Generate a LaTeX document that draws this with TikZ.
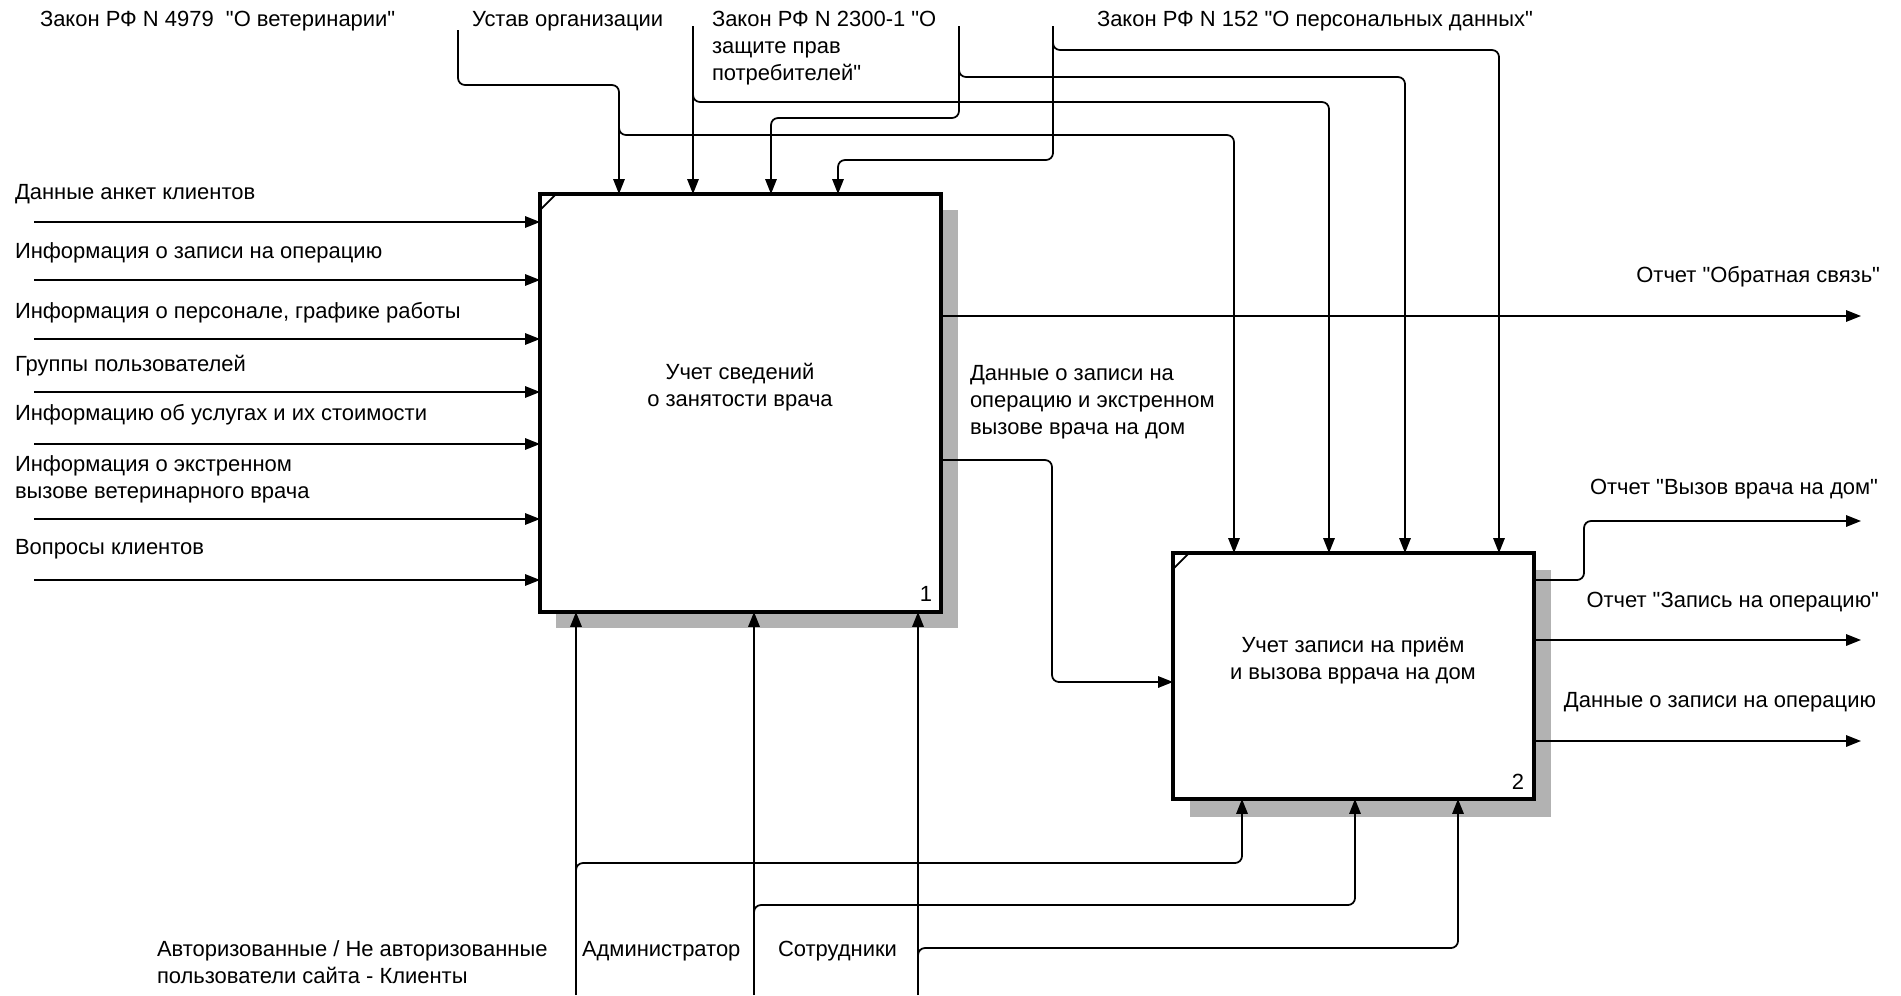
\documentclass[tikz,border=0pt]{standalone}
\usepackage{fontspec}
\setmainfont{Liberation Sans}[Ligatures=TeXOff]
\usetikzlibrary{arrows.meta,calc}
\begin{document}
\begin{tikzpicture}[x=0.02cm,y=-0.02cm,
  every node/.style={font=\fontsize{12.5}{15.3}\selectfont, inner sep=0pt, outer sep=0pt},
  conn/.style={line width=1pt, rounded corners=4pt},
  arr/.style={conn, -{Triangle[length=8.5pt,width=6.5pt]}},
  proc/.style={draw, line width=1.8pt, fill=white, inner sep=0pt, outer sep=0pt, anchor=north west},
  lbl/.style={anchor=west, align=left},
  rlbl/.style={anchor=east, align=right},
  shadowbox/.style={fill=black!30}
]
\useasboundingbox (0,0) rectangle (1901,995);

% shadows
\fill[shadowbox] (556,210) rectangle (958,628);
\fill[shadowbox] (1190,570) rectangle (1551,817);

% boxes
\node[proc, minimum width=8.02cm, minimum height=8.36cm] (b1) at (540,194) {};
\node[proc, minimum width=7.22cm, minimum height=4.92cm] (b2) at (1173,553) {};
\draw[line width=1pt] ($(b1.north west)+(0,16)$) -- ($(b1.north west)+(16,0)$);
\draw[line width=1pt] ($(b2.north west)+(0,16)$) -- ($(b2.north west)+(16,0)$);
\node[align=center] (b1t) at (740,387) {Учет сведений\\о занятости врача};
\node[align=center] (b2t) at (1353,661) {Учет записи на приём\\и вызова вррача на дом};
\node (n1) at (926,594) {1};
\node (n2) at (1518,782) {2};

% inputs
\foreach \i/\y in {1/222,2/280,3/339,4/392,5/444,6/519,7/580}{
  \coordinate (s\i) at (34,\y);
  \draw[arr] (s\i) -- (b1.west |- s\i);
}
\node[lbl] (l1) at (15,194) {Данные анкет клиентов};
\node[lbl] (l2) at (15,253) {Информация о записи на операцию};
\node[lbl] (l3) at (15,313) {Информация о персонале, графике работы};
\node[lbl] (l4) at (15,366) {Группы пользователей};
\node[lbl] (l5) at (15,415) {Информацию об услугах и их стоимости};
\node[lbl] (l6) at (15,479) {Информация о экстренном\\вызове ветеринарного врача};
\node[lbl] (l7) at (15,549) {Вопросы клиентов};

% top labels
\node[lbl] (t1) at (40,21) {Закон РФ N 4979 \ "О ветеринарии"};
\node[lbl] (t2) at (472,21) {Устав организации};
\node[lbl] (t3) at (712,48) {Закон РФ N 2300-1 "О\\защите прав\\потребителей"};
\node[lbl] (t4) at (1097,21) {Закон РФ N 152 "О персональных данных"};

% controls
\coordinate (u1) at (458,30);
\draw[arr] (u1) -- (458,85) -- (619,85) -- (619,0 |- b1.north);
\draw[arr] (619,120) -- (619,135) -- (1234,135) -- (1234,0 |- b2.north);
\coordinate (v1) at (693,26);
\draw[arr] (v1) -- (693,0 |- b1.north);
\draw[arr] (693,88) -- (693,102) -- (1329,102) -- (1329,0 |- b2.north);
\coordinate (w1) at (959,26);
\draw[arr] (w1) -- (959,118) -- (771,118) -- (771,0 |- b1.north);
\draw[arr] (959,63) -- (959,77) -- (1405,77) -- (1405,0 |- b2.north);
\coordinate (z1) at (1053,26);
\draw[arr] (z1) -- (1053,160) -- (838,160) -- (838,0 |- b1.north);
\draw[arr] (1053,36) -- (1053,50) -- (1499,50) -- (1499,0 |- b2.north);

% outputs of box 1
\coordinate (e1) at (1861,316);
\draw[arr] (b1.east |- e1) -- (e1);
\node[rlbl] (o1) at (1880,277) {Отчет "Обратная связь"};
\draw[arr] (b1.east |- 0,460) -- (1052,460) -- (1052,682) -- (b2.west |- 0,682);
\node[lbl] (o2) at (970,402) {Данные о записи на\\операцию и экстренном\\вызове врача на дом};

% outputs of box 2
\coordinate (e2) at (1861,521);
\draw[arr] (b2.east |- 0,580) -- (1584,580) -- (1584,521) -- (e2);
\node[rlbl] (o3) at (1878,489) {Отчет "Вызов врача на дом"};
\coordinate (e3) at (1861,640);
\draw[arr] (b2.east |- e3) -- (e3);
\node[rlbl] (o4) at (1879,602) {Отчет "Запись на операцию"};
\coordinate (e4) at (1861,741);
\draw[arr] (b2.east |- e4) -- (e4);
\node[rlbl] (o5) at (1876,702) {Данные о записи на операцию};

% mechanisms
\coordinate (m1) at (576,995);
\draw[arr] (m1) -- (576,0 |- b1.south);
\draw[arr] (576,877) -- (576,863) -- (1242,863) -- (1242,0 |- b2.south);
\coordinate (m2) at (754,995);
\draw[arr] (m2) -- (754,0 |- b1.south);
\draw[arr] (754,919) -- (754,905) -- (1355,905) -- (1355,0 |- b2.south);
\coordinate (m3) at (918,995);
\draw[arr] (m3) -- (918,0 |- b1.south);
\draw[arr] (918,962) -- (918,948) -- (1458,948) -- (1458,0 |- b2.south);
\node[lbl] (k1) at (157,962) {Авторизованные / Не авторизованные\\пользователи сайта - Клиенты};
\node[lbl] (k2) at (582,951) {Администратор};
\node[lbl] (k3) at (778,951) {Сотрудники};
\end{tikzpicture}
\end{document}
